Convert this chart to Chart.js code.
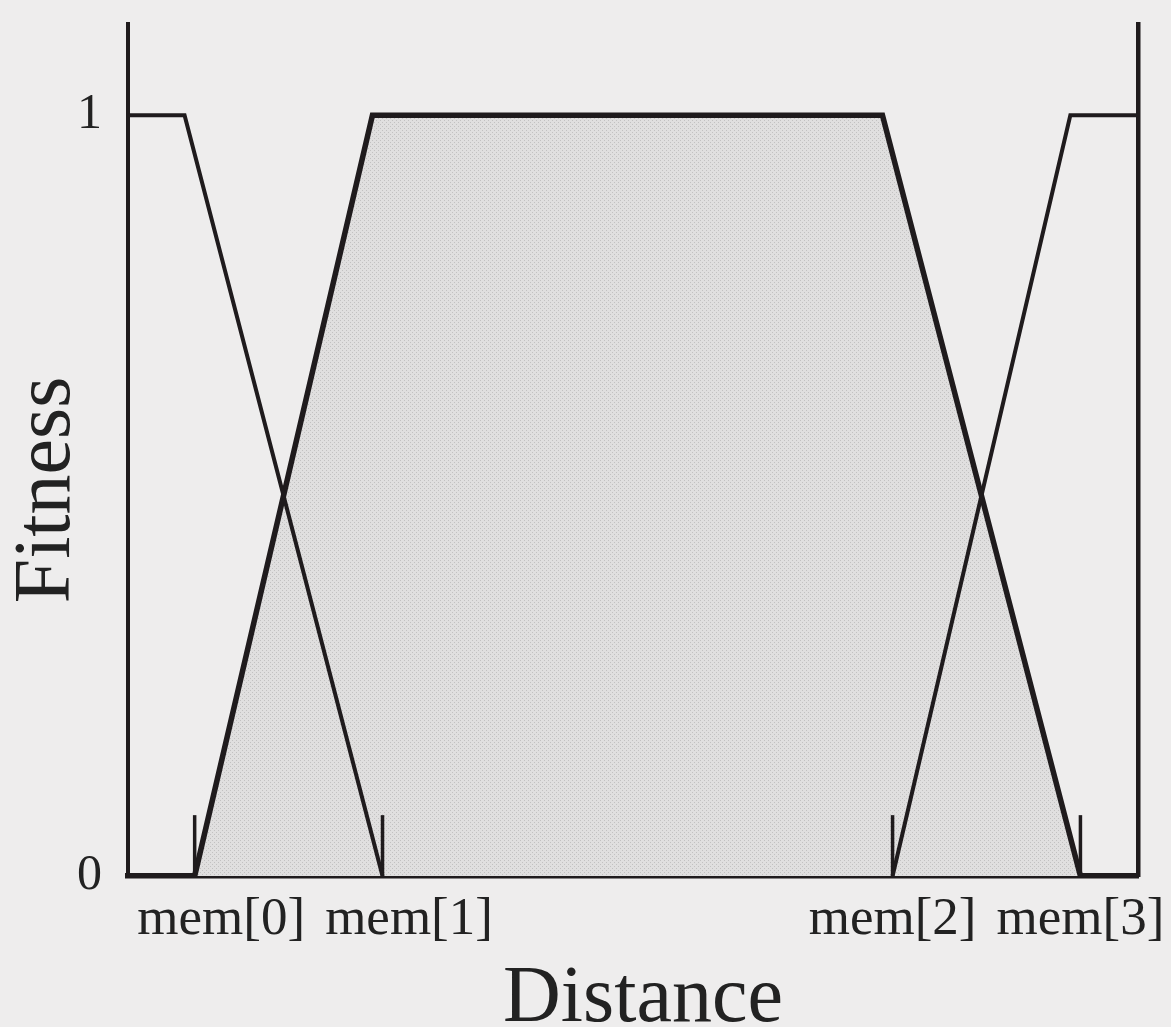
<!DOCTYPE html>
<html>
<head>
<meta charset="utf-8">
<script src="https://cdn.jsdelivr.net/npm/chart.js@4/dist/chart.umd.min.js"></script>
<style>
  html, body { margin: 0; padding: 0; background: #eeeded; }
  #wrap { width: 1171px; height: 1027px; }
</style>
</head>
<body>
<div id="wrap"><canvas id="chart" width="1171" height="1027"></canvas></div>
<script>
// membership break points (distance in 0..100)
const memX = [6.6, 25.2, 75.7, 94.3];
const memLabels = ["mem[0]", "mem[1]", "mem[2]", "mem[3]"];

const leftX = [0, 5.6, 25.2];
const leftY = [1, 1, 0];

const trapX = [6.6, 24.2, 74.7, 94.3];
const trapY = [0, 1, 1, 0];

const rightX = [75.7, 93.3, 100];
const rightY = [0, 1, 1];

const yTicks = [0, 1];
const markHeight = 0.08;

const ink = "#1f1b1d";
const serif = "'Liberation Serif', 'DejaVu Serif', serif";

const toPoints = (xs, ys) => xs.map((x, i) => ({ x: x, y: ys[i] }));

const dotPattern = () => {
    const c = document.createElement("canvas");
    c.width = 4;
    c.height = 4;
    const g = c.getContext("2d");
    g.fillStyle = "#e0dfdf";
    g.fillRect(0, 0, 4, 4);
    g.fillStyle = "#c2c1c1";
    g.fillRect(0, 0, 1, 1);
    g.fillRect(2, 2, 1, 1);
    return g.createPattern(c, "repeat");
};

const lineSet = (data, width) => ({
    data: data,
    showLine: true,
    borderColor: ink,
    borderWidth: width,
    pointRadius: 0,
    tension: 0,
    fill: false,
    clip: false,
    order: 0,
});

const datasets = [
    // shaded trapezoid goes behind the other lines
    Object.assign(lineSet(toPoints(trapX, trapY), 5.5), {
        fill: "origin",
        backgroundColor: dotPattern(),
        order: 5,
    }),
    lineSet(toPoints(leftX, leftY), 4),
    lineSet(toPoints(rightX, rightY), 4),
];
// small upright marks at each mem[] position
memX.forEach((x) => {
    datasets.push(lineSet([{ x: x, y: 0 }, { x: x, y: markHeight }], 3.5));
});

// let the tick labels overhang instead of shrinking the plot
const noOverhang = (scale) => {
    scale.paddingTop = 0;
    scale.paddingBottom = 0;
    scale.paddingLeft = 0;
    scale.paddingRight = 0;
};

new Chart(document.getElementById("chart"), {
    type: "scatter",
    data: { datasets: datasets },
    options: {
        responsive: false,
        animation: false,
        layout: { padding: { top: 24, right: 33, left: 0, bottom: 0 } },
        plugins: {
            legend: { display: false },
            tooltip: { enabled: false },
        },
        scales: {
            x: {
                type: "linear",
                min: 0,
                max: 100,
                afterBuildTicks: (scale) => {
                    scale.ticks = memX.map((v) => ({ value: v }));
                },
                afterFit: (scale) => {
                    scale.height = 151;
                    noOverhang(scale);
                },
                grid: { display: false, drawTicks: false },
                border: { display: true, color: ink, width: 5.5 },
                ticks: {
                    autoSkip: false,
                    maxRotation: 0,
                    padding: 12,
                    color: "#222",
                    font: { family: serif, size: 53 },
                    // the two left labels sit a little right of their marks
                    callback: (value, index) => (index < 2 ? "    " : "") + memLabels[index],
                },
                title: {
                    display: true,
                    text: " Distance",
                    color: "#222",
                    padding: 0,
                    font: { family: serif, size: 80, lineHeight: 0.675 },
                },
            },
            y: {
                type: "linear",
                min: 0,
                max: 1.12,
                afterBuildTicks: (scale) => {
                    scale.ticks = yTicks.map((v) => ({ value: v }));
                },
                afterFit: (scale) => {
                    scale.width = 128;
                    noOverhang(scale);
                },
                grid: { display: false, drawTicks: false },
                border: { display: true, color: ink, width: 4 },
                ticks: {
                    padding: 26,
                    color: "#222",
                    font: { family: serif, size: 50 },
                    callback: (value) => String(value),
                },
                title: {
                    display: true,
                    // trailing spaces push the word a bit below the centre
                    text: "Fitness    ",
                    color: "#222",
                    padding: 0,
                    font: { family: serif, size: 80 },
                },
            },
            y2: {
                type: "linear",
                position: "right",
                min: 0,
                max: 1.12,
                afterFit: (scale) => {
                    scale.width = 0;
                    noOverhang(scale);
                },
                grid: { display: false, drawTicks: false },
                border: { display: true, color: ink, width: 4.5 },
                ticks: { display: false },
            },
        },
    },
});
</script>
</body>
</html>
